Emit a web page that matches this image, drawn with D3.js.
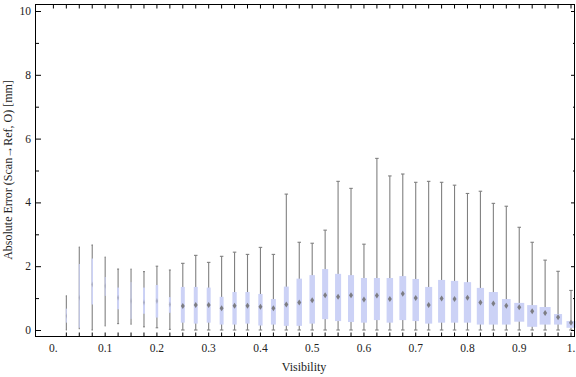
<!DOCTYPE html>
<html>
<head>
<meta charset="UTF-8">
<title>Box whisker</title>
<script src="https://cdn.jsdelivr.net/npm/d3@7"></script>
<style>
  body { margin: 0; background: #fff; }
  text { font-family: "Liberation Serif", "DejaVu Serif", serif; fill: #222; }
</style>
</head>
<body>
<div id="app"></div>
<script>
// visibility bins (box centres)
var visibility = [0.025, 0.05, 0.075, 0.1, 0.125, 0.15, 0.175, 0.2, 0.225, 0.25,
                  0.275, 0.3, 0.325, 0.35, 0.375, 0.4, 0.425, 0.45, 0.475, 0.5,
                  0.525, 0.55, 0.575, 0.6, 0.625, 0.65, 0.675, 0.7, 0.725, 0.75,
                  0.775, 0.8, 0.825, 0.85, 0.875, 0.9, 0.925, 0.95, 0.975, 1.0];
var whiskerLow = [0, 0.04, 0, 0.13, 0.2, 0.18, 0.1, 0.07, 0.02, 0,
                  0, 0, 0, 0, 0, 0, 0, 0, 0, 0,
                  0, 0, 0, 0, 0, 0, 0, 0, 0, 0,
                  0, 0, 0, 0, 0, 0, 0, 0, 0, 0];
var q1 = [0.23, 0.07, 0.8, 1.07, 0.65, 0.35, 0.51, 0.39, 0.54, 0.23,
          0.2, 0.23, 0.17, 0.17, 0.2, 0.14, 0.17, 0.13, 0.13, 0.2,
          0.34, 0.28, 0.25, 0.23, 0.31, 0.23, 0.31, 0.28, 0.2, 0.23,
          0.23, 0.23, 0.17, 0.17, 0.17, 0.26, 0.1, 0.17, 0.17, 0.07];
var median = [0.44, 1.01, 1.43, 1.38, 1.01, 0.91, 0.86, 0.91, 0.8, 0.75,
              0.78, 0.78, 0.68, 0.76, 0.76, 0.73, 0.68, 0.8, 0.86, 0.93,
              1.09, 1.04, 1.09, 0.96, 1.08, 0.97, 1.14, 1.0, 0.78, 0.99,
              0.97, 1.01, 0.86, 0.83, 0.76, 0.71, 0.59, 0.53, 0.4, 0.23];
var q3 = [0.67, 2.07, 2.24, 1.66, 1.33, 1.5, 1.33, 1.41, 1.03, 1.35,
          1.35, 1.33, 1.04, 1.19, 1.19, 1.13, 0.97, 1.36, 1.61, 1.72,
          1.91, 1.76, 1.72, 1.63, 1.63, 1.63, 1.69, 1.6, 1.35, 1.57,
          1.54, 1.5, 1.32, 1.19, 0.97, 0.85, 0.78, 0.72, 0.5, 0.28];
var whiskerHigh = [1.07, 2.6, 2.66, 2.29, 1.91, 1.91, 1.83, 2.0, 1.88, 2.09,
                   2.34, 2.12, 2.31, 2.44, 2.37, 2.59, 2.37, 4.26, 2.75, 2.72,
                   3.13, 4.66, 4.44, 2.69, 5.38, 4.83, 4.89, 4.63, 4.66, 4.63,
                   4.54, 4.28, 4.35, 3.97, 3.88, 3.22, 2.75, 2.19, 1.84, 1.24];
// relative sample weight of each bin (drives box width)
var weight = [9, 9, 14, 9, 18, 9, 18, 23, 18, 36,
              36, 36, 36, 39, 39, 39, 45, 45, 50, 50,
              55, 55, 55, 55, 55, 59, 62, 59, 64, 64,
              66, 66, 66, 82, 79, 91, 91, 100, 73, 82];
var xTickLabels = ["0.", "0.1", "0.2", "0.3", "0.4", "0.5", "0.6", "0.7", "0.8", "0.9", "1."];
var yTicks = [0, 2, 4, 6, 8, 10];

var W = 576, H = 377;
var frame = {left: 36, right: 575, top: 4.5, bottom: 336.5};

var svg = d3.select('#app').append('svg')
    .attr('width', W).attr('height', H);

var x = d3.scaleLinear().domain([0, 1]).range([53.4, 571]);
var y = d3.scaleLinear().domain([0, 10]).range([330, 11]);
var bw = d3.scaleLinear().domain([0, 100]).range([0, 11]);

var data = visibility.map(function(v, i) {
    return {v: v, lo: whiskerLow[i], q1: q1[i], med: median[i], q3: q3[i], hi: whiskerHigh[i], w: bw(weight[i])};
});

// boxes
var g = svg.append('g').selectAll('g').data(data).enter().append('g')
    .attr('transform', function(d) { return 'translate(' + x(d.v) + ',0)'; });

g.append('line')
    .attr('x1', 0).attr('x2', 0)
    .attr('y1', function(d) { return y(d.lo); })
    .attr('y2', function(d) { return y(d.hi); })
    .attr('stroke', '#808080').attr('stroke-width', 1.1);
g.each(function(d) {
    var cap = Math.min(3.5, d.w);
    var s = d3.select(this);
    [d.lo, d.hi].forEach(function(val) {
        s.append('line')
            .attr('x1', -cap / 2).attr('x2', cap / 2)
            .attr('y1', y(val)).attr('y2', y(val))
            .attr('stroke', '#808080').attr('stroke-width', 1.1);
    });
});
g.append('rect')
    .attr('x', function(d) { return -d.w / 2; })
    .attr('width', function(d) { return d.w; })
    .attr('y', function(d) { return y(d.q3); })
    .attr('height', function(d) { return y(d.q1) - y(d.q3); })
    .attr('fill', '#ccd2f6');
g.append('path')
    .attr('d', function(d) {
        var hw = Math.min(2, d.w / 2), hh = 3, c = y(d.med);
        return 'M0,' + (c - hh) + 'L' + hw + ',' + c + 'L0,' + (c + hh) + 'L' + (-hw) + ',' + c + 'Z';
    })
    .attr('fill', '#6e6e6e')
    .attr('opacity', function(d) { return d.w < 3 ? 0.35 : 0.85; });

// frame
svg.append('rect')
    .attr('x', frame.left - 0.5).attr('y', frame.top)
    .attr('width', frame.right - frame.left).attr('height', frame.bottom - frame.top)
    .attr('fill', 'none').attr('stroke', '#000').attr('stroke-width', 1);

// x ticks (every bin) top and bottom
var xt = svg.append('g');
xt.selectAll('line.b').data(visibility).enter().append('line')
    .attr('x1', function(d) { return x(d); }).attr('x2', function(d) { return x(d); })
    .attr('y1', frame.bottom).attr('y2', frame.bottom - 4)
    .attr('stroke', '#000');
xt.selectAll('line.t').data([0].concat(visibility)).enter().append('line')
    .attr('x1', function(d) { return x(d); }).attr('x2', function(d) { return x(d); })
    .attr('y1', frame.top).attr('y2', frame.top + 4)
    .attr('stroke', '#000');
xt.selectAll('text').data(xTickLabels).enter().append('text')
    .attr('x', function(d, i) { return x(i / 10); })
    .attr('y', 352)
    .attr('text-anchor', 'middle')
    .attr('font-size', 11.5)
    .text(function(d) { return d; });

// y ticks left and right
var yMinor = d3.range(0, 11);
var yt = svg.append('g');
yt.selectAll('line.l').data(yMinor).enter().append('line')
    .attr('x1', frame.left).attr('x2', function(d) { return frame.left + (d % 2 === 0 ? 5 : 3); })
    .attr('y1', function(d) { return y(d) + 0.5; }).attr('y2', function(d) { return y(d) + 0.5; })
    .attr('stroke', '#000');
yt.selectAll('line.r').data(yMinor).enter().append('line')
    .attr('x1', frame.right).attr('x2', function(d) { return frame.right - (d % 2 === 0 ? 4 : 2); })
    .attr('y1', function(d) { return y(d) + 0.5; }).attr('y2', function(d) { return y(d) + 0.5; })
    .attr('stroke', '#000');
yt.selectAll('text').data(yTicks).enter().append('text')
    .attr('x', 31)
    .attr('y', function(d) { return y(d) + 4; })
    .attr('text-anchor', 'end')
    .attr('font-size', 11.5)
    .text(function(d) { return d; });

// axis labels
svg.append('text')
    .attr('x', 304).attr('y', 371)
    .attr('text-anchor', 'middle')
    .attr('font-size', 12)
    .text('Visibility');
svg.append('text')
    .attr('transform', 'translate(12,170) rotate(-90)')
    .attr('text-anchor', 'middle')
    .attr('font-size', 12)
    .text('Absolute Error (Scan\u2192Ref, O) [mm]');
</script>
</body>
</html>
